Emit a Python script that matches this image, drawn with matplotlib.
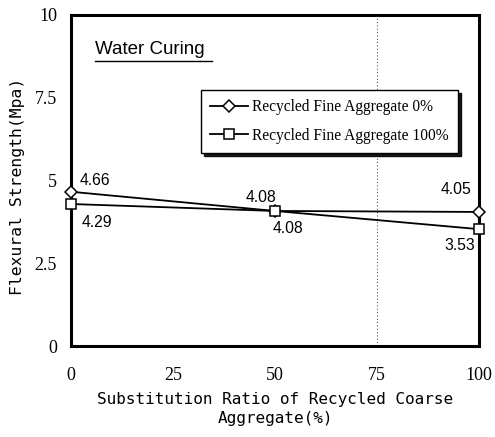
import matplotlib
matplotlib.use("Agg")
import matplotlib.pyplot as plt

# substitution ratio of recycled coarse aggregate (%)
ratio = [0, 50, 100]
fine_0 = [4.66, 4.08, 4.05]
fine_100 = [4.29, 4.08, 3.53]
series_labels = ["Recycled Fine Aggregate 0%", "Recycled Fine Aggregate 100%"]
x_ticks = [0, 25, 50, 75, 100]
y_ticks = [0, 2.5, 5, 7.5, 10]
y_tick_labels = ["0", "2.5", "5", "7.5", "10"]

fig = plt.figure(figsize=(4.95, 4.37), dpi=100)
ax = fig.add_axes([0.1434, 0.2082, 0.8243, 0.7575])

ax.axvline(75, color="0.35", linestyle=(0, (1, 2)), linewidth=0.8, zorder=1)

ax.plot(ratio, fine_0, color="black", linewidth=1.3, marker="D", markersize=6.3,
        markerfacecolor="white", markeredgecolor="black", markeredgewidth=1.1,
        clip_on=False, zorder=3, label=series_labels[0])
ax.plot(ratio, fine_100, color="black", linewidth=1.3, marker="s", markersize=7,
        markerfacecolor="white", markeredgecolor="black", markeredgewidth=1.1,
        clip_on=False, zorder=3, label=series_labels[1])

# value labels (pixel offsets from each point)
offsets_0 = [(9, 11), (-29, 13), (-38, 22)]
offsets_100 = [(11, -18), (-2, -18), (-35, -16)]
for x, y, off in zip(ratio, fine_0, offsets_0):
    ax.annotate(f"{y:.2f}", (x, y), xytext=off, textcoords="offset pixels",
                fontsize=11.3, family="Liberation Sans", va="center", ha="left")
for x, y, off in zip(ratio, fine_100, offsets_100):
    ax.annotate(f"{y:.2f}", (x, y), xytext=off, textcoords="offset pixels",
                fontsize=11.3, family="Liberation Sans", va="center", ha="left")

ax.set_xlim(0, 100)
ax.set_ylim(0, 10)
ax.set_xticks(x_ticks)
ax.set_yticks(y_ticks)
ax.set_yticklabels(y_tick_labels)
ax.tick_params(length=0, labelsize=13)
ax.tick_params(axis="x", pad=15)
ax.tick_params(axis="y", pad=10)
for lab in ax.get_xticklabels() + ax.get_yticklabels():
    lab.set_family("Liberation Serif")
for s in ax.spines.values():
    s.set_linewidth(2.2)

ax.set_xlabel("Substitution Ratio of Recycled Coarse\nAggregate(%)",
              family="DejaVu Sans Mono", fontsize=11.5, linespacing=1.35, labelpad=6)
ax.set_ylabel("Flexural Strength(Mpa)", family="DejaVu Sans Mono", fontsize=11.8)
ax.yaxis.set_label_coords(-0.112, 0.483)

ax.text(0.059, 0.897, "Water Curing", transform=ax.transAxes, fontsize=13.5,
        family="Liberation Sans", ha="left", va="center")
ax.plot([0.059, 0.346], [0.862, 0.862], transform=ax.transAxes, color="black",
        linewidth=1.0)

leg = ax.legend(loc="upper left", bbox_to_anchor=(0.319, 0.583, 0.63, 0.19),
                mode="expand", frameon=True, fancybox=False,
                shadow={"color": "black", "alpha": 0.9},
                prop={"family": "Liberation Serif", "size": 11.2},
                handlelength=2.4, handletextpad=0.3, borderpad=0.6,
                labelspacing=0.8, borderaxespad=0)
leg.get_frame().set_edgecolor("black")
leg.get_frame().set_linewidth(1.0)

fig.savefig("out.png", dpi=100)
